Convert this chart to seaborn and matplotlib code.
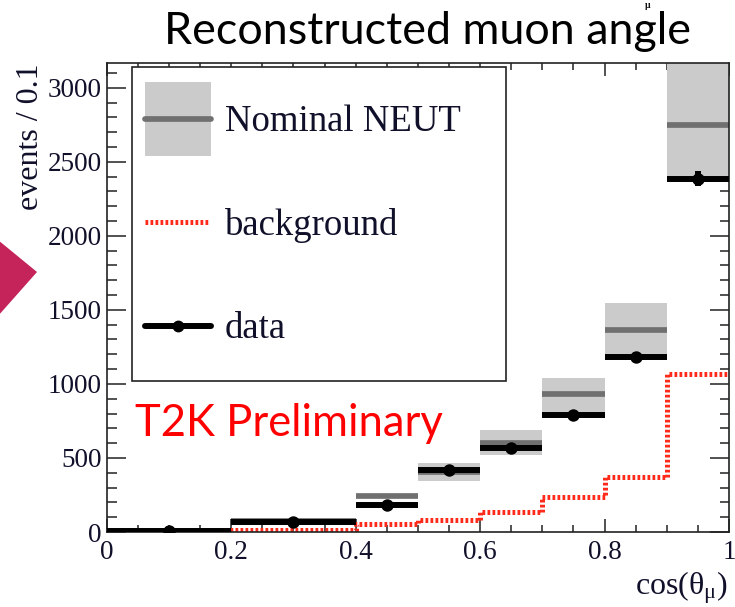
import numpy as np
import pandas as pd
import matplotlib
matplotlib.use("Agg")
import matplotlib.pyplot as plt
import seaborn as sns
from matplotlib.patches import Patch, Polygon, Rectangle
from matplotlib.lines import Line2D
from matplotlib.legend_handler import HandlerBase
from matplotlib.ticker import MultipleLocator

# Bin edges in cos(theta_mu) and per-bin contents (events / 0.1)
bin_edges = [0.0, 0.2, 0.4, 0.5, 0.6, 0.7, 0.8, 0.9, 1.0]
data_counts = [8, 70, 180, 417, 567, 792, 1180, 2386]
mc_nominal = [10, 72, 241, 405, 603, 930, 1364, 2751]
mc_low = [4, 64, 233, 347, 520, 802, 1196, 2400]
mc_high = [16, 80, 249, 464, 689, 1042, 1545, 3170]
background = [3, 14, 54, 84, 135, 236, 371, 1067]

x_tick_labels = ["0", "0.2", "0.4", "0.6", "0.8", "1"]
y_tick_labels = ["0", "500", "1000", "1500", "2000", "2500", "3000"]

W, H, DPI = 735, 607, 100
SERIF = ["Liberation Serif", "DejaVu Serif"]
SANS = ["Lato", "DejaVu Sans"]

sns.set_theme(style="ticks")
plt.rcParams["font.family"] = SERIF
plt.rcParams["mathtext.fontset"] = "custom"
plt.rcParams["mathtext.rm"] = "Liberation Serif"

fig = plt.figure(figsize=(W / DPI, H / DPI), dpi=DPI)
fig.patch.set_facecolor("white")


def fx(px):
    return px / W


def fy(py):
    return 1 - py / H


PT = 72 / DPI  # points per pixel

ax_l, ax_r, ax_t, ax_b = 106.7, 729.0, 63.3, 532.0
ax = fig.add_axes([fx(ax_l), fy(ax_b), fx(ax_r) - fx(ax_l), fy(ax_t) - fy(ax_b)])
ax.set_facecolor("white")

edges = np.array(bin_edges)
lefts = edges[:-1]
widths = np.diff(edges)
centers = lefts + widths / 2

band_color = "#cbcbcb"
line_color = "#707070"
bkg_color = "#ff2a1a"
bkg_style = (0, (0.55, 0.45))

# Nominal MC: uncertainty band and central value
ax.bar(lefts, np.array(mc_high) - np.array(mc_low), bottom=mc_low, width=widths,
       align="edge", color=band_color, linewidth=0, zorder=1)
ax.hlines(mc_nominal, lefts, edges[1:], color=line_color, linewidth=4.1, zorder=1.5)

# Background as a dotted step histogram
bkg_df = pd.DataFrame({"x": edges, "y": list(background) + [background[-1]]})
sns.lineplot(data=bkg_df, x="x", y="y", ax=ax, drawstyle="steps-post", sort=False,
             color=bkg_color, linewidth=3.6, linestyle=bkg_style,
             dash_capstyle="butt", zorder=2)

# Data with horizontal bin-width bars and statistical errors
ax.errorbar(centers, data_counts, xerr=widths / 2, yerr=np.sqrt(data_counts),
            fmt="none", ecolor="black", elinewidth=4.3, capsize=0, zorder=3)
dat_df = pd.DataFrame({"x": centers, "y": data_counts})
sns.scatterplot(data=dat_df, x="x", y="y", ax=ax, color="black", s=80,
                edgecolor="black", linewidth=0, zorder=4)

ax.set_xlim(0, 1)
ax.set_ylim(0, 3165)
ax.set_xlabel("")
ax.set_ylabel("")

ax.set_xticks([0, 0.2, 0.4, 0.6, 0.8, 1.0])
ax.set_xticklabels(x_tick_labels)
ax.set_yticks([0, 500, 1000, 1500, 2000, 2500, 3000])
ax.set_yticklabels(y_tick_labels)
ax.xaxis.set_minor_locator(MultipleLocator(0.05))
ax.yaxis.set_minor_locator(MultipleLocator(100))

ax.tick_params(axis="y", which="major", direction="in", length=19 * PT, width=1.1,
               labelsize=19.5, pad=5 * PT, right=True, colors="#222222",
               labelcolor="#10102a", labelfontfamily="Liberation Serif")
ax.tick_params(axis="y", which="minor", direction="in", length=9.5 * PT, width=1.1,
               right=True, colors="#222222")
ax.tick_params(axis="x", which="major", direction="in", length=13 * PT, width=1.1,
               labelsize=19.5, pad=8 * PT, top=True, colors="#222222",
               labelcolor="#10102a", labelfontfamily="Liberation Serif")
ax.tick_params(axis="x", which="minor", direction="in", length=7 * PT, width=1.1,
               top=True, colors="#222222")
for s in ax.spines.values():
    s.set_visible(True)
    s.set_linewidth(1.2)
    s.set_color("#222222")


# Legend keys: a wide box centred on the label's cap height
class KeyHandler(HandlerBase):
    def __init__(self, kind):
        super().__init__()
        self.kind = kind

    def create_artists(self, legend, orig_handle, xdescent, ydescent, width,
                       height, fontsize, trans):
        x0 = -22.5 * PT
        w = 66 * PT
        yc = 0.331 * fontsize
        arts = []
        if self.kind == "mc":
            arts.append(Rectangle((x0, yc - 37 * PT), w, 74 * PT, facecolor=band_color,
                                  edgecolor="none", transform=trans))
            arts.append(Line2D([x0, x0 + w], [yc, yc], color=line_color,
                               linewidth=4.1, transform=trans))
        elif self.kind == "bkg":
            arts.append(Line2D([x0, x0 + w - 3 * PT], [yc, yc], color=bkg_color,
                               linewidth=3.6, linestyle=bkg_style,
                               dash_capstyle="butt", transform=trans))
        else:
            arts.append(Line2D([x0, x0 + w], [yc, yc], color="black",
                               linewidth=4.3, transform=trans))
            arts.append(Line2D([x0 + w / 2], [yc], color="black", marker="o",
                               markersize=7.5, linestyle="none", transform=trans))
        return arts


h_mc = Patch(facecolor=band_color)
h_bkg = Line2D([], [], color=bkg_color)
h_dat = Line2D([], [], color="black")

leg_fs = 26.5
ax_w_px = ax_r - ax_l
ax_h_px = ax_b - ax_t
leg_left = (132.3 - ax_l) / ax_w_px
leg_right = (505.7 - ax_l) / ax_w_px
leg_top = (ax_b - 67.3) / ax_h_px
leg = ax.legend([h_mc, h_bkg, h_dat], ["Nominal NEUT", "background", "data"],
                handler_map={h_mc: KeyHandler("mc"), h_bkg: KeyHandler("bkg"),
                             h_dat: KeyHandler("data")},
                loc="upper left", mode="expand",
                bbox_to_anchor=(leg_left, leg_top - 0.6, leg_right - leg_left, 0.6),
                borderaxespad=0, fontsize=leg_fs, handlelength=1.0, handleheight=1.0,
                labelspacing=1.80, borderpad=0.95, handletextpad=0.571,
                fancybox=False, framealpha=1, edgecolor="#222222")
leg.get_frame().set_linewidth(1.2)
for t in leg.get_texts():
    t.set_color("#10102a")
    t.set_fontfamily(SERIF)

# Annotations
fig.text(fx(427), fy(44), "Reconstructed muon angle", family=SANS,
         fontsize=32.3, ha="center", va="baseline", color="black")
fig.text(fx(135), fy(423), "T2K Preliminary", family=SANS,
         fontsize=31.4, ha="left", va="center", color="#ff0000")
fig.text(fx(31), fy(63), "events / 0.1", rotation=90, ha="center", va="top",
         fontsize=23, color="#10102a")
fig.text(fx(728), fy(588), r"cos($\mathregular{\theta_{\mu}}$)", ha="right",
         va="center", fontsize=23, color="#10102a")
fig.text(fx(648), fy(5), "μ", ha="center", va="center", fontsize=7,
         fontweight="bold", color="#111111")

# Arrow marker at the left margin
tri = Polygon([(fx(-2), fy(240)), (fx(37), fy(272)), (fx(-2), fy(316))],
              closed=True, transform=fig.transFigure, facecolor="#c4245a",
              edgecolor="none")
fig.add_artist(tri)

fig.savefig("out.png", dpi=DPI, facecolor="white")
